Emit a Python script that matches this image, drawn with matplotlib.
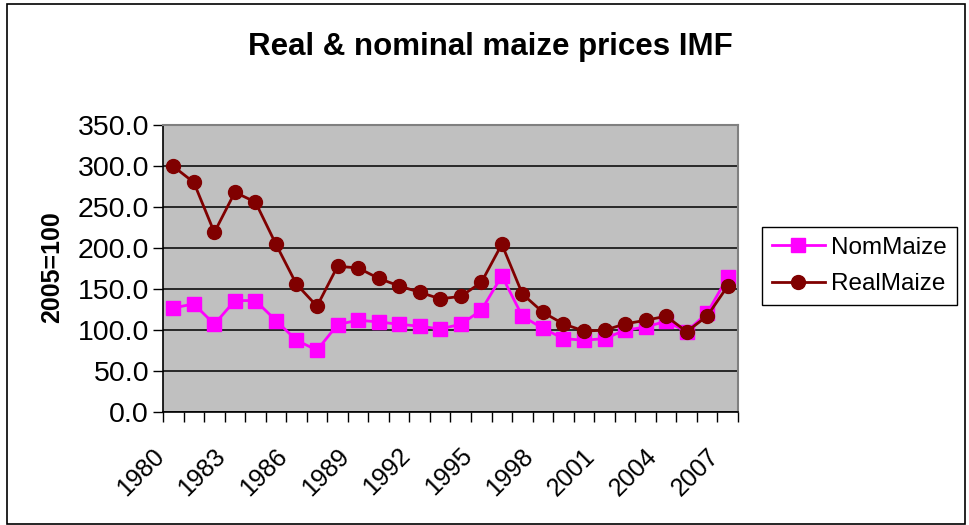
import matplotlib
matplotlib.use("Agg")
import matplotlib.pyplot as plt
from matplotlib.patches import Rectangle
from matplotlib.ticker import FixedLocator, FuncFormatter
from matplotlib.transforms import ScaledTranslation

plt.rcParams["font.family"] = ["Liberation Sans", "DejaVu Sans"]

years = list(range(1980, 2008))
nom_maize = [126.9, 131.8, 107.0, 135.9, 135.9, 111.5, 87.5, 75.3, 106.6, 112.0,
             109.8, 107.0, 104.6, 101.3, 107.0, 124.0, 166.0, 116.8, 102.0, 89.5,
             87.5, 89.5, 99.7, 103.7, 110.6, 98.0, 120.8, 164.7]
real_maize = [299.6, 280.0, 219.0, 268.0, 256.0, 204.6, 155.8, 129.0, 177.7, 175.7,
              163.0, 153.7, 146.0, 138.0, 141.0, 158.0, 204.6, 144.0, 121.6, 107.4,
              98.8, 99.7, 107.4, 111.9, 116.8, 98.0, 117.0, 153.7]

W, H = 970, 525
fig = plt.figure(figsize=(W / 100, H / 100), dpi=100)
fig.patch.set_facecolor("white")

# outer chart frame
fig.patches.append(Rectangle((7 / W, 1 - 524 / H), 958 / W, 520 / H,
                             transform=fig.transFigure, fill=False,
                             edgecolor="black", lw=1.2))

ax = fig.add_axes([163 / W, 1 - 412 / H, 575 / W, 287 / H])
ax.set_facecolor("#C0C0C0")

x = list(range(len(years)))
ax.plot(x, nom_maize, color="#FF00FF", lw=2, marker="s", ms=9.5,
        mec="#FF00FF", mfc="#FF00FF", label="NomMaize", zorder=3)
ax.plot(x, real_maize, color="#800000", lw=2, marker="o", ms=10,
        mec="#800000", mfc="#800000", label="RealMaize", zorder=4)

ax.set_xlim(-0.5, len(years) - 0.5)
ax.set_ylim(0, 350)
ax.set_yticks(range(0, 351, 50))
ax.yaxis.set_major_formatter(FuncFormatter(lambda v, p: f"{v:.1f}"))
ax.yaxis.grid(True, color="black", lw=1.1)
ax.set_axisbelow(True)

ax.xaxis.set_major_locator(FixedLocator(x[::3]))
ax.set_xticklabels([str(y) for y in years[::3]], rotation=45, ha="right",
                   va="center", rotation_mode="anchor", fontsize=18)
ax.xaxis.set_minor_locator(FixedLocator([i - 0.5 for i in range(len(years) + 1)]))
ax.tick_params(axis="x", which="major", length=0, pad=29)
ax.tick_params(axis="x", which="minor", length=7, width=1, direction="out")
ax.tick_params(axis="y", length=7, width=1, labelsize=20.5, pad=3)
shift = ScaledTranslation(-13 / 100, 0, fig.dpi_scale_trans)
for lab in ax.get_xticklabels():
    lab.set_transform(lab.get_transform() + shift)

for s in ("top", "right"):
    ax.spines[s].set_color("#808080")
    ax.spines[s].set_linewidth(1.5)
for s in ("left", "bottom"):
    ax.spines[s].set_color("black")
    ax.spines[s].set_linewidth(1.2)

fig.text(490.5 / W, 1 - 55 / H, "Real & nominal maize prices IMF",
         ha="center", va="baseline", fontsize=22.5, fontweight="bold")
fig.text(52 / W, 1 - 267 / H, "2005=100", rotation=90, ha="center",
         va="center", fontsize=18, fontweight="bold")

leg = fig.legend(loc="upper left", bbox_to_anchor=(762 / W, 1 - 227 / H),
                 borderaxespad=0, fontsize=17.5, frameon=True, fancybox=False,
                 framealpha=1, edgecolor="black", handlelength=2.2,
                 labelspacing=0.6, borderpad=0.4, handletextpad=0.25)
leg.get_frame().set_linewidth(1)

fig.savefig("out.png", dpi=100)
plt.close(fig)
